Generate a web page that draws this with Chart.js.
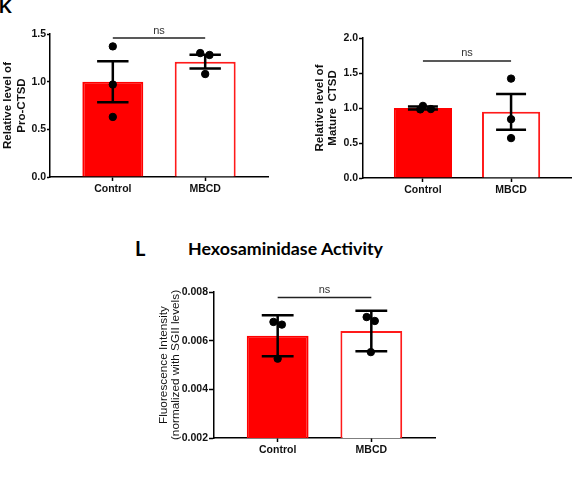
<!DOCTYPE html>
<html>
<head>
<meta charset="utf-8">
<script src="https://cdn.jsdelivr.net/npm/chart.js@4.4.1/dist/chart.umd.min.js"></script>
<style>
  body { margin: 0; background: #fff; }
  #page { position: relative; width: 576px; height: 491px; overflow: hidden; }
  canvas { position: absolute; }
  .lbl { position: absolute; color: #000; white-space: nowrap; }
</style>
</head>
<body>
<div id="page">
  <div class="lbl" style="left:-1px;top:-2px;font:bold 18px/18px 'Liberation Sans',Arial,sans-serif;">K</div>
  <canvas id="proChart" style="left:0;top:0" width="290" height="210"></canvas>
  <canvas id="matChart" style="left:290px;top:0" width="286" height="210"></canvas>
  <div class="lbl" style="left:135px;top:236px;font:bold 20px/24px Lato,'Open Sans',sans-serif;">L</div>
  <div class="lbl" style="left:175px;top:237px;width:221px;text-align:center;font:bold 17.8px/22px Lato,'Open Sans',sans-serif;">Hexosaminidase Activity</div>
  <canvas id="hexChart" style="left:130px;top:260px" width="320" height="210"></canvas>
</div>
<script>
const groups = ["Control", "MBCD"];

// K: Pro-CTSD
const proMean = [1.0, 1.21];
const proSem = [0.215, 0.073];
const proControl = [1.37, 0.97, 0.63];
const proMbcd = [1.30, 1.28, 1.08];
const proTicks = [0, 0.5, 1.0, 1.5];

// K: Mature CTSD
const matMean = [1.0, 0.945];
const matSem = [0.02, 0.255];
const matControl = [1.03, 0.98, 0.985];
const matMbcd = [1.42, 0.84, 0.57];
const matTicks = [0, 0.5, 1.0, 1.5, 2.0];

// L: Hexosaminidase activity
const hexMean = [0.0062, 0.0064];
const hexSem = [0.00084, 0.00083];
const hexControl = [0.00677, 0.00666, 0.00526];
const hexMbcd = [0.00697, 0.00681, 0.00553];
const hexTicks = [0.002, 0.004, 0.006, 0.008];

const FONT = "'Liberation Sans', Arial, sans-serif";

// draws SEM bars and the "ns" bracket through the chart scales
function statsPlugin(mean, sem, nsY) {
  return {
    id: "stats",
    afterDatasetsDraw(chart) {
      const { ctx, scales: { x, y } } = chart;
      ctx.save();
      ctx.strokeStyle = "#000";
      ctx.lineWidth = 2.5;
      mean.forEach((m, i) => {
        const cx = x.getPixelForValue(i);
        const half = x.getPixelForValue(i + 0.17) - cx;
        const top = y.getPixelForValue(m + sem[i]);
        const bot = y.getPixelForValue(m - sem[i]);
        ctx.beginPath();
        ctx.moveTo(cx, top); ctx.lineTo(cx, bot);
        ctx.moveTo(cx - half, top); ctx.lineTo(cx + half, top);
        ctx.moveTo(cx - half, bot); ctx.lineTo(cx + half, bot);
        ctx.stroke();
      });
      const x0 = x.getPixelForValue(0), x1 = x.getPixelForValue(1);
      const ny = y.getPixelForValue(nsY);
      ctx.lineWidth = 1.5;
      ctx.strokeStyle = "#222";
      ctx.beginPath(); ctx.moveTo(x0, ny); ctx.lineTo(x1, ny); ctx.stroke();
      ctx.fillStyle = "#333";
      ctx.font = "11px " + FONT;
      ctx.textAlign = "center";
      ctx.textBaseline = "bottom";
      ctx.fillText("ns", (x0 + x1) / 2, ny - 2);
      ctx.restore();
    }
  };
}

function makeChart(id, o) {
  const pts = [];
  o.control.forEach((v, j) => pts.push({ x: 0 + o.jitter[0][j], y: v }));
  o.mbcd.forEach((v, j) => pts.push({ x: 1 + o.jitter[1][j], y: v }));

  return new Chart(document.getElementById(id), {
    type: "bar",
    data: {
      datasets: [
        {
          type: "scatter",
          data: pts,
          backgroundColor: "#000",
          borderColor: "#000",
          pointRadius: 3.7,
          order: 1
        },
        {
          data: o.mean.map((m, i) => ({ x: i, y: m })),
          backgroundColor: ["#ff0000", "#ffffff"],
          borderColor: ["#ff0000", "#ff1a1a"],
          borderWidth: 2,
          categoryPercentage: 1,
          barPercentage: 0.66,
          order: 2
        }
      ]
    },
    options: {
      responsive: false,
      animation: false,
      layout: { padding: o.padding },
      plugins: { legend: { display: false }, tooltip: { enabled: false } },
      scales: {
        x: {
          type: "linear",
          min: -0.68,
          max: 1.68,
          offset: false,
          z: 1,
          afterBuildTicks: (s) => { s.ticks = groups.map((g, i) => ({ value: i })); },
          afterFit: (s) => { s.height = o.xHeight; },
          grid: { display: true, offset: false, drawOnChartArea: false, drawTicks: true,
                  tickLength: 4, tickColor: "#000", tickWidth: 1.5 },
          border: { display: true, color: "#000", width: 1.5 },
          ticks: { callback: (v) => groups[v], color: "#111", autoSkip: false, maxRotation: 0,
                   padding: 2, font: { family: FONT, size: 10.5, weight: "bold" } }
        },
        y: {
          min: o.ticks[0],
          max: o.ticks[o.ticks.length - 1],
          z: 1,
          afterBuildTicks: (s) => { s.ticks = o.ticks.map((v) => ({ value: v })); },
          afterFit: (s) => { s.width = o.yWidth; },
          grid: { display: true, drawOnChartArea: false, drawTicks: true,
                  tickLength: o.tickLen, tickColor: "#000", tickWidth: 1.5 },
          border: { display: true, color: "#000", width: 1.5 },
          ticks: { callback: (v) => v.toFixed(o.decimals), color: "#111", padding: 1,
                   font: { family: FONT, size: 10.5, weight: "bold" } },
          title: {
            display: true,
            text: o.title,
            color: "#111",
            padding: { top: o.titlePad, bottom: 0 },
            font: { family: FONT, size: o.titleSize, weight: o.titleWeight, lineHeight: o.titleLH }
          }
        }
      }
    },
    plugins: [statsPlugin(o.mean, o.sem, o.nsY)]
  });
}

makeChart("proChart", {
  mean: proMean, sem: proSem, control: proControl, mbcd: proMbcd, ticks: proTicks,
  jitter: [[0, 0, 0], [-0.054, 0.047, 0]],
  decimals: 1, nsY: 1.458,
  title: ["Relative level of", "Pro-CTSD"], titleWeight: "bold", titleSize: 11.5, titleLH: 1.2, titlePad: 1,
  padding: { top: 34, right: 22, left: 0, bottom: 0 }, yWidth: 50, xHeight: 33, tickLen: 3
});

makeChart("matChart", {
  mean: matMean, sem: matSem, control: matControl, mbcd: matMbcd, ticks: matTicks,
  jitter: [[0, -0.03, 0.09], [0, 0, 0]],
  decimals: 1, nsY: 1.673,
  title: ["Relative level of", "Mature  CTSD"], titleWeight: "bold", titleSize: 11.5, titleLH: 1.13, titlePad: 23.5,
  padding: { top: 38, right: 3, left: 0, bottom: 0 }, yWidth: 73, xHeight: 32, tickLen: 4
});

makeChart("hexChart", {
  mean: hexMean, sem: hexSem, control: hexControl, mbcd: hexMbcd, ticks: hexTicks,
  jitter: [[-0.045, 0.045, 0], [-0.05, 0.037, -0.005]],
  decimals: 3, nsY: 0.00777,
  title: ["Fluorescence Intensity", "(normalized with SGII levels)"], titleWeight: "normal",
  titleSize: 11.8, titleLH: 1.0, titlePad: 28,
  padding: { top: 32, right: 15, left: 0, bottom: 0 }, yWidth: 84, xHeight: 32, tickLen: 5
});
</script>
</body>
</html>
